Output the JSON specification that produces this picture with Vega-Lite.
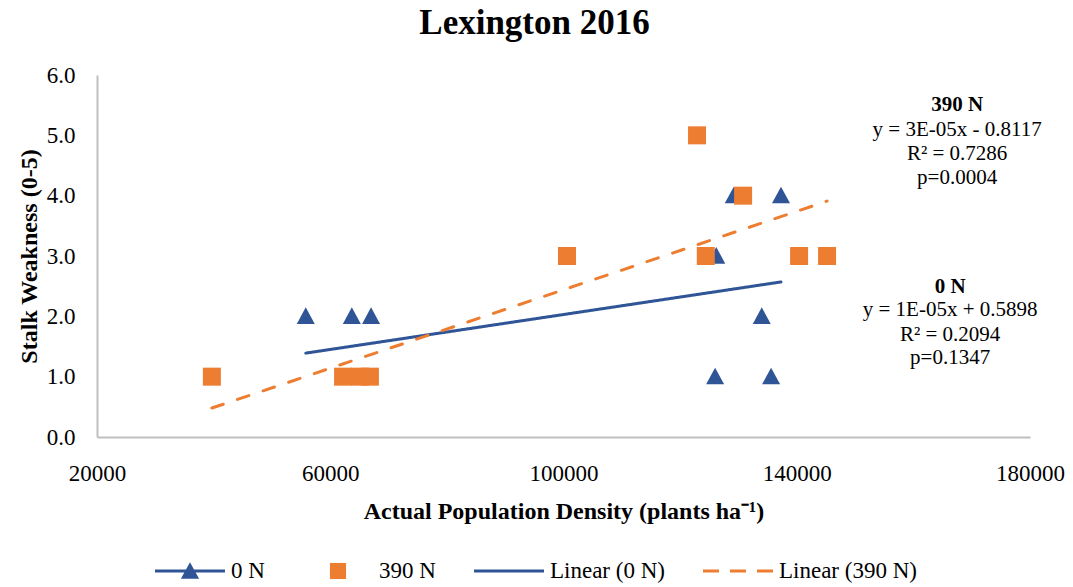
{
  "$schema": "https://vega.github.io/schema/vega-lite/v6.json",
  "width": 933,
  "height": 362,
  "autosize": {"type": "none"},
  "padding": {"left": 97, "top": 75, "right": 43, "bottom": 150},
  "background": "white",
  "config": {"view": {"stroke": null}, "font": "Liberation Serif"},
  "title": {
    "text": "Lexington 2016",
    "font": "Liberation Serif",
    "fontSize": 35,
    "fontWeight": "bold",
    "color": "black",
    "anchor": "middle",
    "dx": -29,
    "offset": 23
  },
  "datasets": {
    "points": [
      {"series": "0 N", "density": 55800, "weakness": 2},
      {"series": "0 N", "density": 63700, "weakness": 2},
      {"series": "0 N", "density": 67000, "weakness": 2},
      {"series": "0 N", "density": 126000, "weakness": 1},
      {"series": "0 N", "density": 126200, "weakness": 3},
      {"series": "0 N", "density": 129200, "weakness": 4},
      {"series": "0 N", "density": 134000, "weakness": 2},
      {"series": "0 N", "density": 135600, "weakness": 1},
      {"series": "0 N", "density": 137300, "weakness": 4},
      {"series": "390 N", "density": 39700, "weakness": 1},
      {"series": "390 N", "density": 62200, "weakness": 1},
      {"series": "390 N", "density": 65100, "weakness": 1},
      {"series": "390 N", "density": 66800, "weakness": 1},
      {"series": "390 N", "density": 100600, "weakness": 3},
      {"series": "390 N", "density": 122900, "weakness": 5},
      {"series": "390 N", "density": 124400, "weakness": 3},
      {"series": "390 N", "density": 130800, "weakness": 4},
      {"series": "390 N", "density": 140400, "weakness": 3},
      {"series": "390 N", "density": 145200, "weakness": 3}
    ],
    "fits": [
      {"series": "Linear (0 N)", "density": 55800, "weakness": 1.39},
      {"series": "Linear (0 N)", "density": 137300, "weakness": 2.57},
      {"series": "Linear (390 N)", "density": 39700, "weakness": 0.48},
      {"series": "Linear (390 N)", "density": 145200, "weakness": 3.91}
    ],
    "notes": [
      {"role": "head", "density": 167500, "weakness": 5.5, "label": "390 N"},
      {"role": "body", "density": 167500, "weakness": 5.09, "label": "y = 3E-05x - 0.8117"},
      {"role": "body", "density": 167500, "weakness": 4.69, "label": "R² = 0.7286"},
      {"role": "body", "density": 167500, "weakness": 4.29, "label": "p=0.0004"},
      {"role": "head", "density": 166300, "weakness": 2.49, "label": "0 N"},
      {"role": "body", "density": 166300, "weakness": 2.1, "label": "y = 1E-05x + 0.5898"},
      {"role": "body", "density": 166300, "weakness": 1.69, "label": "R² = 0.2094"},
      {"role": "body", "density": 166300, "weakness": 1.31, "label": "p=0.1347"}
    ]
  },
  "encoding": {
    "x": {
      "field": "density",
      "type": "quantitative",
      "scale": {"domain": [20000, 180000], "nice": false, "zero": false},
      "axis": {
        "values": [20000, 60000, 100000, 140000, 180000],
        "format": "d",
        "grid": false,
        "ticks": false,
        "tickSize": 0,
        "domainColor": "#bfbfbf",
        "domainWidth": 2,
        "labelFont": "Liberation Serif",
        "labelFontSize": 23,
        "labelColor": "black",
        "labelPadding": 25,
        "labelFlush": false,
        "title": "Actual Population Density (plants ha⁻¹)",
        "titleFont": "Liberation Serif",
        "titleFontSize": 24,
        "titleFontWeight": "bold",
        "titleColor": "black",
        "titlePadding": 14
      }
    },
    "y": {
      "field": "weakness",
      "type": "quantitative",
      "scale": {"domain": [0, 6], "nice": false},
      "axis": {
        "values": [0, 1, 2, 3, 4, 5, 6],
        "format": ".1f",
        "grid": false,
        "ticks": false,
        "tickSize": 0,
        "domainColor": "#bfbfbf",
        "domainWidth": 2,
        "labelFont": "Liberation Serif",
        "labelFontSize": 23,
        "labelColor": "black",
        "labelPadding": 22,
        "labelFlush": false,
        "title": "Stalk Weakness (0-5)",
        "titleFont": "Liberation Serif",
        "titleFontSize": 24,
        "titleFontWeight": "bold",
        "titleColor": "black",
        "titlePadding": 5
      }
    }
  },
  "layer": [
    {
      "data": {"name": "fits"},
      "mark": {"type": "line", "strokeWidth": 3, "strokeCap": "round"},
      "encoding": {
        "color": {
          "field": "series",
          "type": "nominal",
          "scale": {
            "domain": ["0 N", "390 N", "Linear (0 N)", "Linear (390 N)"],
            "range": ["#2F5597", "#ED7D31", "#2F5597", "#ED7D31"]
          },
          "legend": {
            "title": null,
            "orient": "none",
            "direction": "horizontal",
            "legendX": 58,
            "legendY": 461,
            "symbolSize": 4900,
            "columnPadding": 38,
            "labelOffset": 6,
            "labelFont": "Liberation Serif",
            "labelFontSize": 23,
            "labelColor": "black",
            "encode": {
              "symbols": {
                "update": {
                  "shape": {"signal": "datum.value === '0 N' ? 'M-1,-0.043H1V0.043H-1Z M0,-0.25L0.26,0.22L-0.26,0.22Z' : datum.value === '390 N' ? 'M-0.23,-0.23H0.23V0.23H-0.23Z' : datum.value === 'Linear (0 N)' ? 'M-1,-0.043H1V0.043H-1Z' : 'M-1,-0.043H-0.543V0.043H-1Z M-0.229,-0.043H0.229V0.043H-0.229Z M0.543,-0.043H1V0.043H0.543Z'"},
                  "fill": {"signal": "indexof(datum.value, '390') >= 0 ? '#ED7D31' : '#2F5597'"},
                  "stroke": {"value": "transparent"},
                  "strokeWidth": {"value": 0},
                  "opacity": {"value": 1}
                }
              }
            }
          }
        },
        "strokeDash": {
          "field": "series",
          "type": "nominal",
          "scale": {"domain": ["Linear (0 N)", "Linear (390 N)"], "range": [[1, 0], [12, 15]]},
          "legend": null
        }
      }
    },
    {
      "data": {"name": "points"},
      "mark": {"type": "point", "filled": true, "opacity": 1, "size": 324, "strokeWidth": 0},
      "encoding": {
        "color": {"field": "series", "type": "nominal"},
        "shape": {
          "field": "series",
          "type": "nominal",
          "scale": {"domain": ["0 N", "390 N"], "range": ["M0,-1L1,0.85L-1,0.85Z", "square"]},
          "legend": null
        }
      }
    },
    {
      "data": {"name": "notes"},
      "transform": [{"filter": "datum.role === 'head'"}],
      "mark": {"type": "text", "font": "Liberation Serif", "fontSize": 21, "fontWeight": "bold", "color": "black", "align": "center", "baseline": "middle"},
      "encoding": {"text": {"field": "label"}}
    },
    {
      "data": {"name": "notes"},
      "transform": [{"filter": "datum.role === 'body'"}],
      "mark": {"type": "text", "font": "Liberation Serif", "fontSize": 21, "color": "black", "align": "center", "baseline": "middle"},
      "encoding": {"text": {"field": "label"}}
    }
  ]
}
